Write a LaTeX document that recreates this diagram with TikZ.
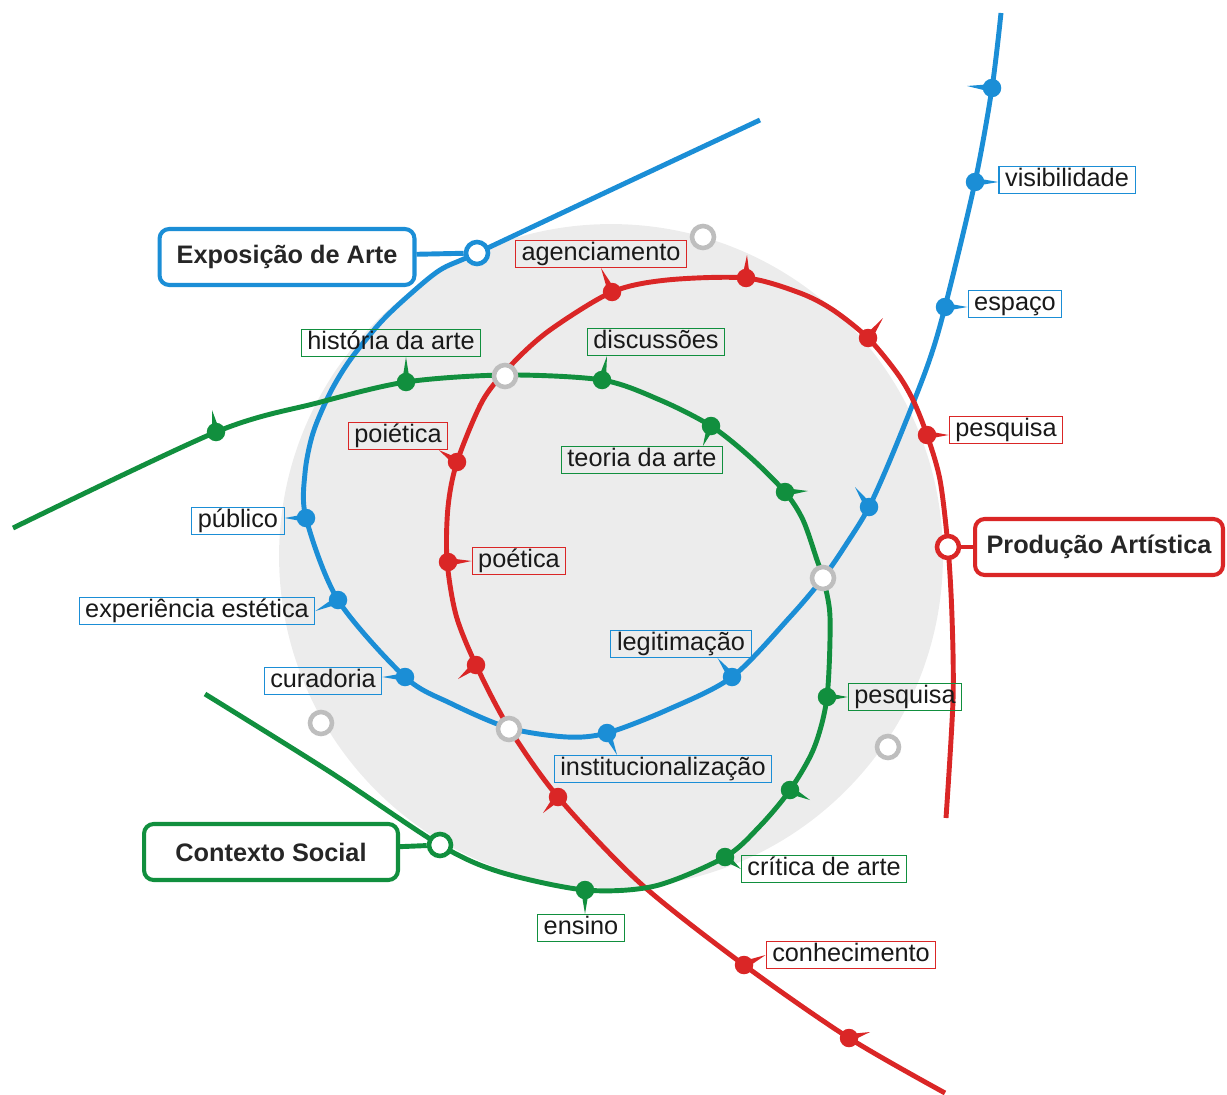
\documentclass[tikz,border=0pt]{standalone}
\usepackage{fontspec}
\setmainfont{Liberation Sans}
\definecolor{artblue}{RGB}{27,142,214}
\definecolor{artred}{RGB}{218,38,38}
\definecolor{artgreen}{RGB}{17,143,62}
\definecolor{bggrey}{RGB}{236,236,236}
\definecolor{ringgrey}{RGB}{190,190,190}
\usepackage{tikz}
\usetikzlibrary{positioning,calc}

% small tapered pointer from a stop to its label
\newcommand{\spike}[3]{\coordinate (sp) at #3;
    \fill[#1] ($(#2)!0.08cm!90:(sp)$) -- (sp) -- ($(#2)!0.08cm!-90:(sp)$) -- cycle;}

\begin{document}
\begin{tikzpicture}[x=0.02cm, y=-0.02cm,
    metroline/.style={draw=#1, line width=2.8pt},
    stopdot/.style={circle, fill=#1, inner sep=0pt, minimum size=0.37cm},
    ring/.style={circle, draw=#1, fill=white, line width=2.6pt, inner sep=0pt, minimum size=0.44cm},
    stoplabel/.style={draw=#1, line width=0.6pt, text=black!90, inner xsep=3.5pt, inner ysep=1pt,
        text height=10.4pt, text depth=3pt, font=\fontsize{14.4}{17}\selectfont},
    titlebox/.style={draw=#1, fill=white, line width=2.3pt, rounded corners=5.5pt,
        minimum height=1.12cm, text=black!85, font=\fontsize{14.4}{17}\selectfont\bfseries}]
    \useasboundingbox (0,0) rectangle (1227,1095);

    % Grey disc behind
    \fill[bggrey] (611,556) circle[radius=6.64cm];

    % Blue line
    \draw[metroline=artblue] plot[smooth, tension=0.5] coordinates {(1001,13) (992,88) (975,182) (945,307)
        (927,367) (893,453) (869,507) (847,543) (823,578) (790,617) (732,677) (667,710) (607,733) (567,737)
        (509,728) (450,703) (405,677) (338,600) (306,518) (305,473) (313,433) (330,393) (350,360) (380,323)
        (407,297) (440,270) (477,253) (615,188) (760,120)};
    % Red line
    \draw[metroline=artred] plot[smooth, tension=0.5] coordinates {(946,818) (953,700) (952,617) (948,547)
        (940,480) (927,435) (913,400) (897,373) (868,338) (833,310) (800,293) (746,278) (667,280) (612,292)
        (550,330) (513,363) (483,400) (457,462) (448,507) (447,560) (456,615) (476,665) (509,728) (558,797)
        (640,883) (744,965) (849,1038) (945,1093)};
    % Green line
    \draw[metroline=artgreen] plot[smooth, tension=0.5] coordinates {(13,528) (216,432) (317,403)
        (406,382) (505,375) (602,380) (660,400) (711,426) (750,457) (785,492) (803,520) (817,560) (823,578)
        (830,617) (827,697) (814,748) (790,790) (760,826) (725,857) (655,886) (585,890) (500,872) (440,845)
        (330,772) (205,694)};

    % Labels
    \node[stoplabel=artblue] (vis) at (1067,180) {visibilidade};
    \node[stoplabel=artblue] (esp) at (1015,304) {espaço};
    \node[stoplabel=artblue] (leg) at (681,644) {legitimação};
    \node[stoplabel=artblue] (inst) at (663,769) {institucionalização};
    \node[stoplabel=artblue] (cur) at (323,681) {curadoria};
    \node[stoplabel=artblue] (expe) at (197,611) {experiência estética};
    \node[stoplabel=artblue] (pub) at (238,521) {público};

    \node[stoplabel=artred] (rpesl) at (1006,430) {pesquisa};
    \node[stoplabel=artred] (agen) at (601,254) {agenciamento};
    \node[stoplabel=artred] (poie) at (398,436) {poiética};
    \node[stoplabel=artred] (poet) at (519,561) {poética};
    \node[stoplabel=artred] (con) at (851,955) {conhecimento};

    \node[stoplabel=artgreen] (hist) at (391,343) {história da arte};
    \node[stoplabel=artgreen] (disc) at (656,342) {discussões};
    \node[stoplabel=artgreen] (teo) at (642,460) {teoria da arte};
    \node[stoplabel=artgreen] (gpesl) at (905,697) {pesquisa};
    \node[stoplabel=artgreen] (crit) at (824,869) {crítica de arte};
    \node[stoplabel=artgreen] (ens) at (581,928) {ensino};

    % Blue stops
    \node[stopdot=artblue] (b1) at (992,88) {};
    \node[stopdot=artblue] (bvis) at (975,182) {};
    \node[stopdot=artblue] (besp) at (945,307) {};
    \node[stopdot=artblue] (b2) at (869,507) {};
    \node[stopdot=artblue] (bleg) at (732,677) {};
    \node[stopdot=artblue] (binst) at (607,733) {};
    \node[stopdot=artblue] (bcur) at (405,677) {};
    \node[stopdot=artblue] (bexp) at (338,600) {};
    \node[stopdot=artblue] (bpub) at (306,518) {};
    \spike{artblue}{b1}{(967,86)}
    \spike{artblue}{bvis}{(vis.west |- bvis)}
    \spike{artblue}{besp}{(esp.west |- besp)}
    \spike{artblue}{b2}{(855,487)}
    \spike{artblue}{bleg}{(leg.-21)}
    \spike{artblue}{binst}{(inst.163)}
    \spike{artblue}{bcur}{(cur.east |- bcur)}
    \spike{artblue}{bexp}{(expe.east)}
    \spike{artblue}{bpub}{(pub.east |- bpub)}

    % Red stops
    \node[stopdot=artred] (rpes) at (927,435) {};
    \node[stopdot=artred] (r1) at (868,338) {};
    \node[stopdot=artred] (r2) at (746,278) {};
    \node[stopdot=artred] (ragen) at (612,292) {};
    \node[stopdot=artred] (rpoie) at (457,462) {};
    \node[stopdot=artred] (rpoet) at (448,562) {};
    \node[stopdot=artred] (r3) at (476,665) {};
    \node[stopdot=artred] (r4) at (558,797) {};
    \node[stopdot=artred] (rcon) at (744,965) {};
    \node[stopdot=artred] (r5) at (849,1038) {};
    \spike{artred}{rpes}{(rpesl.west |- rpes)}
    \spike{artred}{r1}{(883,318)}
    \spike{artred}{r2}{(747,255)}
    \spike{artred}{ragen}{(agen.south)}
    \spike{artred}{rpoie}{(poie.-19)}
    \spike{artred}{rpoet}{(poet.west)}
    \spike{artred}{r3}{(458,679)}
    \spike{artred}{r4}{(543,813)}
    \spike{artred}{rcon}{(con.west)}
    \spike{artred}{r5}{(870,1032)}

    % Green stops
    \node[stopdot=artgreen] (g1) at (216,432) {};
    \node[stopdot=artgreen] (ghist) at (406,382) {};
    \node[stopdot=artgreen] (gdisc) at (602,380) {};
    \node[stopdot=artgreen] (gteo) at (711,426) {};
    \node[stopdot=artgreen] (g2) at (785,492) {};
    \node[stopdot=artgreen] (gpes) at (827,697) {};
    \node[stopdot=artgreen] (g3) at (790,790) {};
    \node[stopdot=artgreen] (gcrit) at (725,857) {};
    \node[stopdot=artgreen] (gens) at (585,890) {};
    \spike{artgreen}{g1}{(212,410)}
    \spike{artgreen}{ghist}{(hist.south -| ghist)}
    \spike{artgreen}{gdisc}{(disc.-164)}
    \spike{artgreen}{gteo}{(teo.13)}
    \spike{artgreen}{g2}{(808,491)}
    \spike{artgreen}{gpes}{(gpesl.west)}
    \spike{artgreen}{g3}{(810,800)}
    \spike{artgreen}{gcrit}{(crit.west)}
    \spike{artgreen}{gens}{(ens.north -| gens)}

    % Crossings and empty stops
    \foreach \p [count=\i] in {(505,376),(509,729),(823,578),(703,237),(321,723),(888,747)}
        \node[ring=ringgrey] (x\i) at \p {};

    % Terminals
    \node[titlebox=artblue, minimum width=5.1cm] (expo) at (287,257) {Exposição de Arte};
    \node[ring=artblue] (ecirc) at (477,253) {};
    \draw[metroline=artblue] (expo) -- (ecirc);

    \node[titlebox=artred, minimum width=4.96cm] (prod) at (1099,547) {Produção Artística};
    \node[ring=artred] (pcirc) at (948,547) {};
    \draw[metroline=artred] (prod) -- (pcirc);

    \node[titlebox=artgreen, minimum width=5.08cm] (ctx) at (271,852) {Contexto Social};
    \node[ring=artgreen] (ccirc) at (440,845) {};
    \draw[metroline=artgreen] (ctx) -- (ccirc);
\end{tikzpicture}
\end{document}
